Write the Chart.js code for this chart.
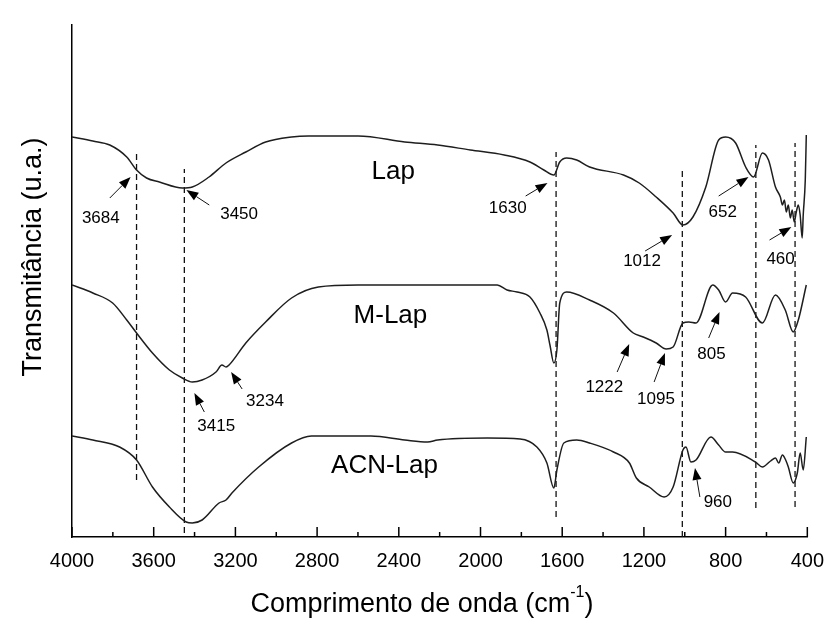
<!DOCTYPE html>
<html>
<head>
<meta charset="utf-8">
<script src="https://cdn.jsdelivr.net/npm/chart.js@4.4.0/dist/chart.umd.min.js"></script>
<style>
html,body{margin:0;padding:0;background:#fff;}
#c{display:block;}
</style>
</head>
<body>
<canvas id="c" width="836" height="627"></canvas>
<script>
// ---- Data (wavenumber cm-1, transmittance a.u.) ----
const lapWave = [4000,3898,3815,3732,3684,3635,3572,3460,3411,3329,3246,3149,3052,2925,2842,2599,2371,2210,2050,1884,1758,1690,1641,1612,1578,1529,1466,1300,1223,1140,1057,1009,960,897,834,800,751,702,663,620,590,556,532,522,512,503,493,483,474,464,454,444,435,425,420,410,405];
const lapT    = [400,396,392,380,367,359,355,349,350,360,374,385,395,400,401,401,395,392,387,382,375,367,362,375,379,377,370,362,354,340,324,312,320,350,397,400,394,370,360,384,377,350,340,332,337,325,332,319,327,315,325,332,322,299,322,357,402];

const mlapWave = [4000,3898,3801,3732,3684,3606,3523,3460,3411,3363,3295,3266,3246,3231,3149,3052,2925,2794,2599,2210,1918,1870,1821,1758,1709,1675,1660,1641,1626,1612,1578,1466,1349,1252,1203,1140,1091,1057,1009,980,945,863,834,800,766,702,620,556,508,469,444,405];
const mlapT    = [252,244,234,217,204,184,167,159,155,157,165,172,170,172,194,215,239,250,252,252,252,247,245,240,224,207,192,174,187,234,245,237,224,204,200,194,188,190,214,215,214,252,247,235,244,240,214,242,227,205,217,252];

const acnWave = [4000,3898,3767,3684,3606,3523,3441,3411,3363,3280,3246,3217,3086,2925,2828,2599,2536,2371,2259,2210,1967,1806,1724,1675,1641,1626,1592,1529,1466,1349,1271,1237,1174,1101,1057,1009,994,970,945,872,834,800,766,654,620,580,556,540,522,506,493,469,449,435,420,405];
const acnT    = [101,97,90,77,50,30,15,14,17,34,37,44,70,94,101,101,101,97,95,97,99,98,90,74,49,67,94,97,94,85,74,59,50,40,50,87,90,75,77,100,92,85,85,75,70,76,79,74,82,77,70,54,64,84,67,100];

const seriesNames = ['Lap','M-Lap','ACN-Lap'];
const curveLabelW = [2427,2441,2470];
const curveLabelT = [365,221,71];

// dashed reference lines
const dashWave   = [3684,3450,1630,1012,652,460];
const dashBottom = [57,4,20,0,29,30];
const dashTop    = [384,368,385,367,392,394];

// peak annotations
const annotText   = ['3684','3450','1630','1012','652','460','3415','3234','1222','1095','805','960'];
const annotLabelW = [3859,3182,1867,1209,814,531,3294,3055,1394,1141,869,838];
const annotLabelT = [319,323,329,276,325,278,111,136,150,138,183,35];
const arrowTailW  = [3815,3328,1779,1194,834,585,3352,3167,1331,1150,883,926];
const arrowTailT  = [339,332,341,286,341,297,125,148,165,155,199,40];
const arrowHeadW  = [3713,3440,1672,1062,688,478,3401,3221,1272,1097,830,950];
const arrowHeadT  = [360,347,354,302,360,310,144,165,193,184,225,69];

const xTicks = [4000,3600,3200,2800,2400,2000,1600,1200,800,400];
const xTitle = 'Comprimento de onda (cm';
const xTitleSup = '-1';
const yTitle = 'Transmitância (u.a.)';

const FONT = '"Liberation Sans", Arial, sans-serif';
const pts = (w, t) => w.map((v, i) => ({x: v, y: t[i]}));

const curveStyle = {borderColor: '#1e1e1e', borderWidth: 1.5, pointRadius: 0, fill: false, cubicInterpolationMode: 'monotone'};
const datasets = [
  Object.assign({label: seriesNames[0], data: pts(lapWave, lapT)}, curveStyle),
  Object.assign({label: seriesNames[1], data: pts(mlapWave, mlapT)}, curveStyle),
  Object.assign({label: seriesNames[2], data: pts(acnWave, acnT)}, curveStyle)
];
dashWave.forEach((w, i) => {
  datasets.push({label: 'ref ' + w, data: [{x: w, y: dashBottom[i]}, {x: w, y: dashTop[i]}],
    borderColor: '#111', borderWidth: 1.3, borderDash: [6, 4], pointRadius: 0, fill: false, tension: 0});
});

const decorPlugin = {
  id: 'decor',
  afterDraw(chart) {
    const ctx = chart.ctx, xs = chart.scales.x, ys = chart.scales.y;
    const bottom = ys.getPixelForValue(0);
    ctx.save();
    // inner ticks
    ctx.strokeStyle = '#000'; ctx.lineWidth = 1.5;
    for (let w = 400; w <= 4000; w += 200) {
      const px = xs.getPixelForValue(w);
      const len = (w % 400 === 0) ? 10 : 5;
      ctx.beginPath(); ctx.moveTo(px, bottom); ctx.lineTo(px, bottom - len); ctx.stroke();
    }
    // curve names
    ctx.fillStyle = '#000'; ctx.textAlign = 'center'; ctx.textBaseline = 'middle';
    ctx.font = '26px ' + FONT;
    seriesNames.forEach((n, i) => ctx.fillText(n, xs.getPixelForValue(curveLabelW[i]), ys.getPixelForValue(curveLabelT[i])));
    // annotations
    ctx.font = '17px ' + FONT;
    annotText.forEach((t, i) => {
      ctx.fillText(t, xs.getPixelForValue(annotLabelW[i]), ys.getPixelForValue(annotLabelT[i]));
      const x0 = xs.getPixelForValue(arrowTailW[i]), y0 = ys.getPixelForValue(arrowTailT[i]);
      const x1 = xs.getPixelForValue(arrowHeadW[i]), y1 = ys.getPixelForValue(arrowHeadT[i]);
      const a = Math.atan2(y1 - y0, x1 - x0), hl = 12, hw = 4.5;
      const bx = x1 - hl * Math.cos(a), by = y1 - hl * Math.sin(a);
      ctx.strokeStyle = '#111'; ctx.lineWidth = 1;
      ctx.beginPath(); ctx.moveTo(x0, y0); ctx.lineTo(bx, by); ctx.stroke();
      ctx.beginPath();
      ctx.moveTo(x1, y1);
      ctx.lineTo(bx + hw * Math.sin(a), by - hw * Math.cos(a));
      ctx.lineTo(bx - hw * Math.sin(a), by + hw * Math.cos(a));
      ctx.closePath(); ctx.fill();
    });
    // axis titles
    ctx.font = '27px ' + FONT;
    const cx = 422;
    const mainW = ctx.measureText(xTitle).width;
    ctx.font = '16px ' + FONT;
    const supW = ctx.measureText(xTitleSup).width;
    ctx.font = '27px ' + FONT;
    const closeW = ctx.measureText(')').width;
    const total = mainW + supW + closeW;
    let sx = cx - total / 2;
    ctx.textAlign = 'left'; ctx.textBaseline = 'alphabetic';
    ctx.fillText(xTitle, sx, 612); sx += mainW;
    ctx.font = '16px ' + FONT; ctx.fillText(xTitleSup, sx, 597); sx += supW;
    ctx.font = '27px ' + FONT; ctx.fillText(')', sx, 612);
    ctx.translate(34, 257); ctx.rotate(-Math.PI / 2);
    ctx.textAlign = 'center'; ctx.textBaseline = 'middle';
    ctx.font = '27px ' + FONT;
    ctx.fillText(yTitle, 0, 0);
    ctx.restore();
  }
};

new Chart(document.getElementById('c'), {
  type: 'line',
  data: {datasets},
  options: {
    responsive: false, animation: false, devicePixelRatio: 1,
    layout: {padding: {left: 0, top: 25, right: 25, bottom: 0}},
    plugins: {legend: {display: false}, tooltip: {enabled: false}},
    scales: {
      x: {
        type: 'linear', reverse: true, min: 400, max: 4000,
        afterBuildTicks: s => { s.ticks = xTicks.map(v => ({value: v})); },
        ticks: {stepSize: 400, autoSkip: false, maxRotation: 0, color: '#000', padding: 12,
                font: {family: FONT, size: 20}, callback: v => String(v)},
        grid: {display: true, drawOnChartArea: false, drawTicks: false},
        border: {display: true, color: '#000', width: 1.5},
        afterFit: s => { s.height = 90; }
      },
      y: {
        min: 0, max: 512,
        ticks: {display: false},
        grid: {display: false},
        border: {display: true, color: '#000', width: 1.5},
        afterFit: s => { s.width = 72; }
      }
    }
  },
  plugins: [decorPlugin]
});
</script>
</body>
</html>
